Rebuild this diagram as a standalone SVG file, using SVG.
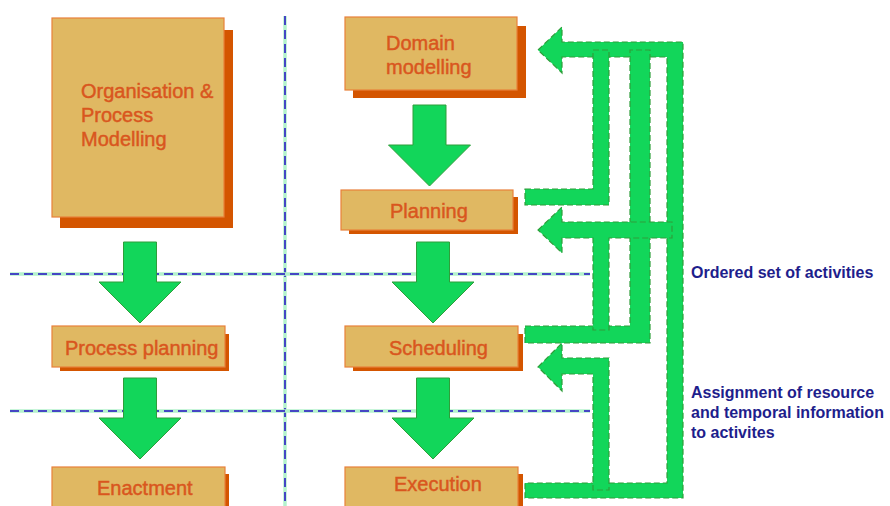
<svg xmlns="http://www.w3.org/2000/svg" width="890" height="506" viewBox="0 0 890 506">
<style>
.bg{fill:#ffffff}
.box{fill:#E0B862;stroke:#E8803A;stroke-width:1.2}
.shadow{fill:#D45500}
.lbl{font-family:"Liberation Sans",Arial,sans-serif;font-size:20px;fill:#D9561E;stroke:#D9561E;stroke-width:0.45}
.note{font-family:"Liberation Sans",Arial,sans-serif;font-size:16px;font-weight:bold;fill:#1E1E8C}
.under{stroke:#B4F2CC;stroke-width:3.5;fill:none}
.dash{stroke:#4646C4;stroke-width:2;stroke-dasharray:9 5;fill:none}
.down{fill:#12D65A;stroke:#2E9E3A;stroke-width:1}
.fb{fill:#12D65A;stroke:#2E9E3A;stroke-width:1.2;stroke-dasharray:6 3}
</style>
<defs>
<path id="dn" d="M-16.5,0 H16.5 V40 H41 L0,81 L-41,40 H-16.5 Z"/>
</defs>
<rect class="bg" x="0" y="0" width="890" height="506"/>
<g id="grid">
<line class="under" x1="285" y1="16" x2="285" y2="506"/>
<line class="dash" x1="285" y1="16" x2="285" y2="506"/>
<line class="under" x1="10" y1="274" x2="590" y2="274"/>
<line class="dash" x1="10" y1="274" x2="590" y2="274"/>
<line class="under" x1="10" y1="411" x2="590" y2="411"/>
<line class="dash" x1="10" y1="411" x2="590" y2="411"/>
</g>
<g id="org">
<rect class="shadow" x="60" y="30" width="173" height="198"/>
<rect class="box" x="52" y="18" width="172" height="199"/>
<text class="lbl" x="81" y="98">Organisation &amp;</text>
<text class="lbl" x="81" y="122">Process</text>
<text class="lbl" x="81" y="146">Modelling</text>
</g>
<g id="domain">
<rect class="shadow" x="353" y="26" width="173" height="72"/>
<rect class="box" x="345" y="17" width="172" height="73"/>
<text class="lbl" x="386" y="50">Domain</text>
<text class="lbl" x="386" y="74">modelling</text>
</g>
<g id="planning">
<rect class="shadow" x="349" y="197" width="169" height="37"/>
<rect class="box" x="341" y="190" width="172" height="40"/>
<text class="lbl" x="390" y="218">Planning</text>
</g>
<g id="processplanning">
<rect class="shadow" x="60" y="334" width="169" height="37"/>
<rect class="box" x="52" y="326" width="173" height="41"/>
<text class="lbl" x="65" y="355">Process planning</text>
</g>
<g id="scheduling">
<rect class="shadow" x="353" y="334" width="170" height="37"/>
<rect class="box" x="345" y="326" width="173" height="41"/>
<text class="lbl" x="389" y="355">Scheduling</text>
</g>
<g id="enactment">
<rect class="shadow" x="60" y="474" width="169" height="40"/>
<rect class="box" x="52" y="467" width="173" height="45"/>
<text class="lbl" x="97" y="495">Enactment</text>
</g>
<g id="execution">
<rect class="shadow" x="353" y="474" width="170" height="40"/>
<rect class="box" x="345" y="467" width="173" height="45"/>
<text class="lbl" x="394" y="491">Execution</text>
</g>
<g id="connectors">
<use href="#dn" class="down" transform="translate(140,242)"/>
<use href="#dn" class="down" transform="translate(140,378)"/>
<use href="#dn" class="down" transform="translate(429.5,105)"/>
<use href="#dn" class="down" transform="translate(433,242)"/>
<use href="#dn" class="down" transform="translate(433,378)"/>
<polygon class="fb" points="538,50 562,27 562,42 683,42 683,498 525,498 525,483 667,483 667,57 562,57 562,73"/>
<polygon class="fb" points="525,189 593,189 593,50 609,50 609,205 525,205"/>
<polygon class="fb" points="525,326 630,326 630,50 650,50 650,343 525,343"/>
<polygon class="fb" points="538,230 562,207 562,222 672,222 672,238 609,238 609,330 593,330 593,238 562,238 562,253"/>
<polygon class="fb" points="538,367 562,343 562,358 609,358 609,490 593,490 593,374 562,374 562,391"/>
</g>
<g id="notes">
<text class="note" x="691" y="278">Ordered set of activities</text>
<text class="note" x="691" y="398">Assignment of resource</text>
<text class="note" x="691" y="418">and temporal information</text>
<text class="note" x="691" y="438">to activites</text>
</g>
</svg>
